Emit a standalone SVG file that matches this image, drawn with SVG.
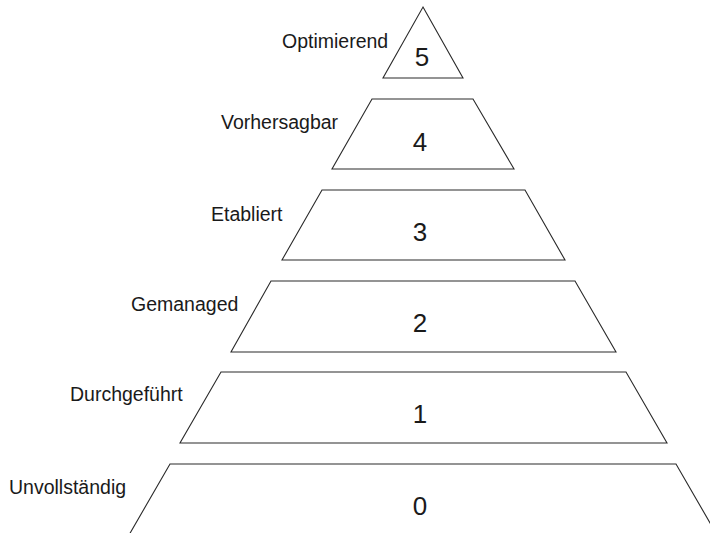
<svg xmlns="http://www.w3.org/2000/svg" width="710" height="533" viewBox="0 0 710 533">
  <style>
    .tier { fill: #ffffff; stroke: #2a2a2a; stroke-width: 1.1; stroke-linejoin: miter; }
    .num { font-family: "Liberation Sans", Arial, sans-serif; font-size: 26px; fill: #1a1a1a; text-anchor: middle; }
    .lbl { font-family: "Liberation Sans", Arial, sans-serif; font-size: 19.5px; fill: #1a1a1a; }
  </style>
  <rect width="710" height="533" fill="#ffffff"/>

  <g id="level-5">
    <polygon class="tier" points="423,7 463,78 383,78"/>
    <text class="num" x="422" y="66">5</text>
    <text class="lbl" x="282" y="48">Optimierend</text>
  </g>

  <g id="level-4">
    <polygon class="tier" points="372,99 473,99 514,169 332,169"/>
    <text class="num" x="420" y="151">4</text>
    <text class="lbl" x="221" y="129">Vorhersagbar</text>
  </g>

  <g id="level-3">
    <polygon class="tier" points="322,190 525,190 565,260 282,260"/>
    <text class="num" x="420" y="241">3</text>
    <text class="lbl" x="211" y="221">Etabliert</text>
  </g>

  <g id="level-2">
    <polygon class="tier" points="271,281 575,281 616,352 231,352"/>
    <text class="num" x="420" y="332">2</text>
    <text class="lbl" x="131" y="311">Gemanaged</text>
  </g>

  <g id="level-1">
    <polygon class="tier" points="221,372 626,372 667,443 180,443"/>
    <text class="num" x="420" y="423">1</text>
    <text class="lbl" x="70" y="401">Durchgeführt</text>
  </g>

  <g id="level-0">
    <polyline class="tier" fill="none" points="129,535 170,464 676,464 717,535"/>
    <text class="num" x="420" y="515">0</text>
    <text class="lbl" x="9" y="494">Unvollständig</text>
  </g>

  <g id="connectors"></g>
</svg>
